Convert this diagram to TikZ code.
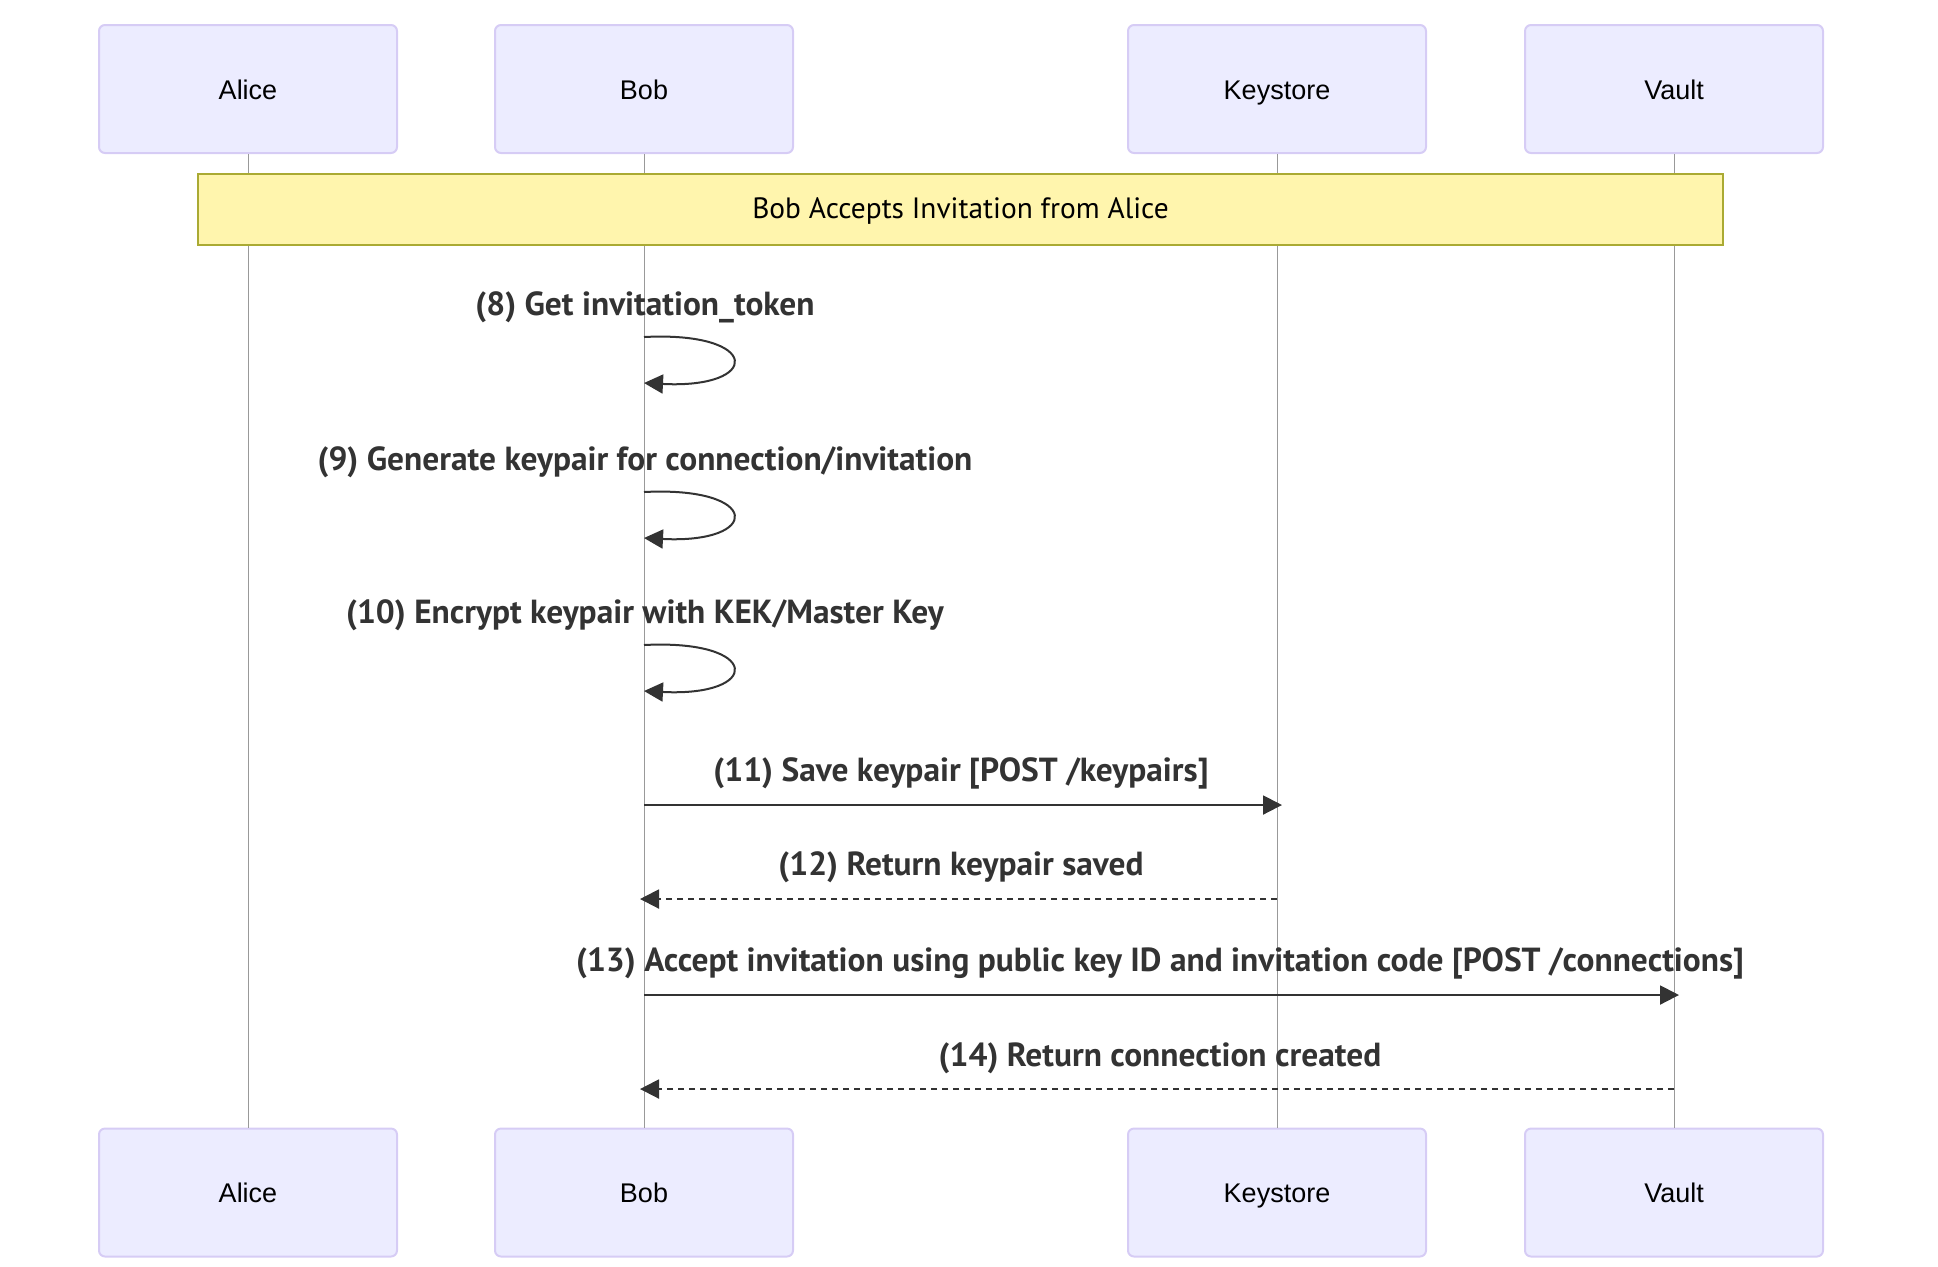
\documentclass[tikz,border=0pt]{standalone}
\usepackage{fontspec}
\setmainfont{Liberation Sans}
\newfontfamily\msgfont{PT Sans}
\usetikzlibrary{arrows.meta}
\definecolor{actorfill}{HTML}{ECECFF}
\definecolor{actorline}{HTML}{D6CCF5}
\definecolor{notefill}{HTML}{FFF5AD}
\definecolor{noteline}{HTML}{AAAA33}
\definecolor{ink}{HTML}{333333}
\tikzset{
  actor/.style={draw=actorline,fill=actorfill,line width=1pt,rounded corners=3pt,
    minimum width=149pt,minimum height=64pt,text height=1.1em,text depth=0.06em,
    font=\fontsize{13.5}{16}\selectfont},
  life/.style={draw=black!40,line width=0.5pt},
  note/.style={draw=noteline,fill=notefill,line width=0.8pt,minimum width=762.5pt,
    minimum height=35.5pt,text height=0.95em,text depth=0.09em,
    font=\msgfont\fontsize{14.7}{17}\selectfont,text=black},
  msglabel/.style={font=\msgfont\bfseries\fontsize{16.7}{19}\selectfont,text=ink,
    inner sep=0pt,text height=0.72em,text depth=0.2em},
  msgline/.style={draw=ink,line width=1pt,-{Triangle[length=9.5pt,width=9.5pt]}},
  reply/.style={msgline,dash pattern=on 3pt off 2.5pt}
}
\begin{document}
\begin{tikzpicture}[x=0.5pt,y=-0.5pt]
\useasboundingbox (0,0) rectangle (1938,1266);
\foreach \n/\t/\x in {alice/Alice/248,bob/Bob/644,keys/Keystore/1277,vault/Vault/1674}{
\node[actor] (\n T) at (\x,89) {\t};
\node[actor] (\n B) at (\x,1192.5) {\t};
\draw[life] (\n T) -- (\n B);
}
\node[note] (hdr) at (960.5,209.5) {Bob Accepts Invitation from Alice};
\foreach \k/\y/\t in {8/337/{Get invitation\_token},9/492/{Generate keypair for connection/invitation},10/645/{Encrypt keypair with KEK/Master Key}}{
\node[msglabel] (m\k) at (645,\y-27) {(\k) \t};
\coordinate (s\k a) at (644,\y);
\coordinate (s\k b) at (644,\y+46);
\draw[msgline] (s\k a) .. controls (762,\y-6) and (762,\y+52) .. (s\k b);
}
\coordinate (b11) at (644,805);
\coordinate (k11) at (1282,805);
\coordinate (k12) at (1277,899);
\coordinate (b12) at (640,899);
\coordinate (b13) at (644,995);
\coordinate (v13) at (1679,995);
\coordinate (v14) at (1674,1089);
\coordinate (b14) at (640,1089);
\node[msglabel] (m11) at (961,776) {(11) Save keypair [POST /keypairs]};
\draw[msgline] (b11) -- (k11);
\node[msglabel] (m12) at (961,870) {(12) Return keypair saved};
\draw[reply] (k12) -- (b12);
\node[msglabel] (m13) at (1160,966) {(13) Accept invitation using public key ID and invitation code [POST /connections]};
\draw[msgline] (b13) -- (v13);
\node[msglabel] (m14) at (1160,1061) {(14) Return connection created};
\draw[reply] (v14) -- (b14);
\end{tikzpicture}
\end{document}
